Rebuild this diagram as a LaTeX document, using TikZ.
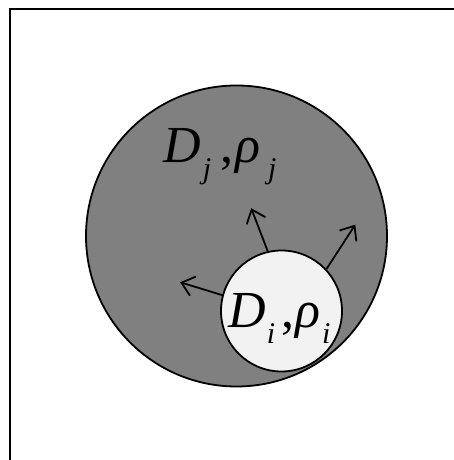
\documentclass[tikz,border=0pt]{standalone}
\usepackage{fontspec}
\setmainfont{Liberation Serif}
\usetikzlibrary{arrows.meta}
\newcommand{\symsub}[2]{\textit{#1}\raisebox{-0.3em}{\fontsize{30}{30}\selectfont\textit{#2}}}
\tikzset{
  outer/.style = {circle, draw, line width=1.8pt, fill=gray, minimum size=301pt, inner sep=0pt},
  inner/.style = {circle, draw, line width=1.8pt, fill=white!95!black, minimum size=121pt, inner sep=0pt},
  flux/.style = {line width=1.8pt, -{Straight Barb[length=12pt,width=20pt,line width=1.8pt]}},
  lbl/.style = {anchor=base west, inner sep=0pt, font=\fontsize{52}{56}\selectfont}
}
\begin{document}
\begin{tikzpicture}[x=1pt,y=1pt]
	\useasboundingbox (0,0) rectangle (454,460);
	\draw [line width=2pt] (10,0) -- (10,451) -- (454,451);
	\node [outer] (dj) at (236.5,224) {};
	\node [inner] (di) at (281.5,149) {};
	%\draw (di.center) circle (2pt);
	\draw [flux] (di.103) -- ++(111:46);
	\draw [flux] (di.43) -- ++(57:53);
	\draw [flux] (di.165) -- ++(163:44);
	\node [lbl] (lblj) at (163,297) {\symsub{D}{\kern2pt j}\kern9pt,\kern2pt\symsub{ρ}{\kern8pt j}};
	\node [lbl] (lbli) at (228,132) {\symsub{D}{\kern1pt i}\kern6pt,\kern1pt\symsub{ρ}{\kern2pt i}};
\end{tikzpicture}
\end{document}
